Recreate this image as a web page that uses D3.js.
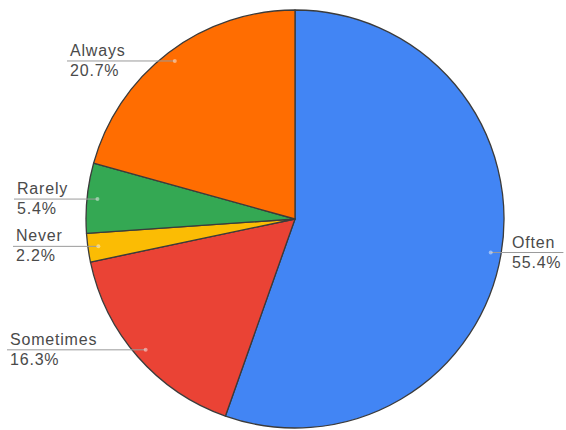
<!DOCTYPE html>
<html>
<head>
<meta charset="utf-8">
<script src="https://cdn.jsdelivr.net/npm/d3@7"></script>
<style>
  html, body { margin: 0; padding: 0; background: #fff; }
  svg { display: block; }
  text { font-family: "Liberation Sans", Arial, sans-serif; }
</style>
</head>
<body>
<svg id="chart" width="566" height="430"></svg>
<script>
// Survey response shares, in drawing order (clockwise from 12 o'clock)
const categories = ["Often", "Sometimes", "Never", "Rarely", "Always"];
const shares = [55.4, 16.3, 2.2, 5.4, 20.7];
const sliceColors = ["#4285F4", "#EA4335", "#FBBC04", "#34A853", "#FF6D01"];

// Where each label's text block starts horizontally
const labelX = { "Often": 512, "Sometimes": 10, "Never": 16, "Rarely": 17, "Always": 70 };

const width = 566, height = 430;
const cx = 295, cy = 219, R = 209;

const svg = d3.select("#chart");
const g = svg.append("g").attr("transform", `translate(${cx},${cy})`);

const pie = d3.pie().sort(null).value(d => d.v);
const data = categories.map((c, i) => ({ c, v: shares[i], color: sliceColors[i] }));
const arcs = pie(data);

const arc = d3.arc().innerRadius(0).outerRadius(R);
const anchorArc = d3.arc().innerRadius(R * 0.95).outerRadius(R * 0.95);

g.selectAll("path.slice")
  .data(arcs)
  .join("path")
  .attr("class", "slice")
  .attr("d", arc)
  .attr("fill", d => d.data.color)
  .attr("stroke", "#3b3b3b")
  .attr("stroke-width", 1.3)
  .attr("stroke-linejoin", "round");

// Leader lines with labels
const fmt = v => v.toFixed(1) + "%";
const labels = svg.append("g");

arcs.forEach(d => {
  const [ax, ay] = anchorArc.centroid(d);
  const px = cx + ax, py = cy + ay;
  const right = px > cx;
  const tx = labelX[d.data.c];
  const name = d.data.c;

  const t1 = labels.append("text")
    .attr("x", tx).attr("y", py - 5)
    .attr("font-size", 16).attr("letter-spacing", 0.8)
    .attr("fill", "#4a4a4a")
    .text(name);
  const t2 = labels.append("text")
    .attr("x", tx).attr("y", py + 15)
    .attr("font-size", 16).attr("letter-spacing", 0.8)
    .attr("fill", "#4a4a4a")
    .text(fmt(d.data.v));

  const w = Math.max(t1.node().getComputedTextLength(), t2.node().getComputedTextLength());
  const x2 = right ? tx + w + 2 : tx - 3;

  labels.append("line")
    .attr("x1", px).attr("y1", py)
    .attr("x2", x2).attr("y2", py)
    .attr("stroke", "#9a9a9a").attr("stroke-width", 1);

  labels.append("circle")
    .attr("cx", px).attr("cy", py).attr("r", 2)
    .attr("fill", "#ffffff").attr("fill-opacity", 0.45);
});
</script>
</body>
</html>
